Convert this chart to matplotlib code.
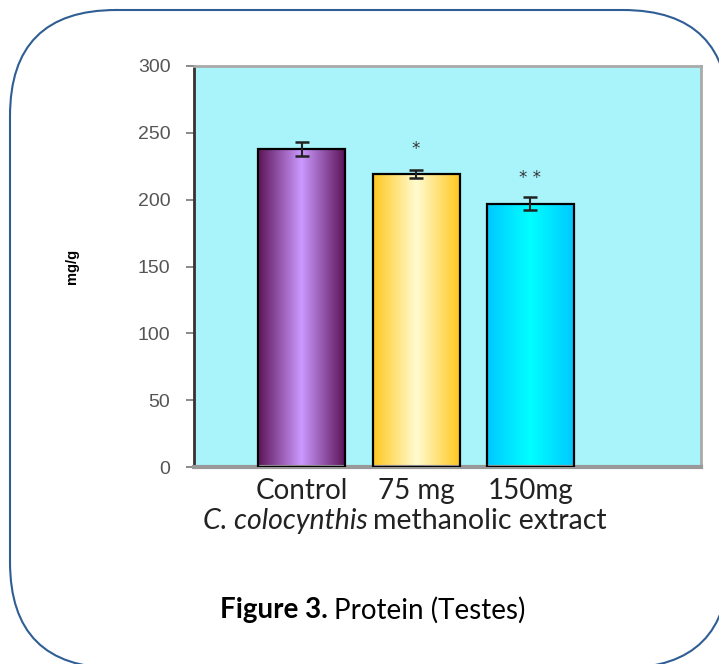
import matplotlib
matplotlib.use("Agg")
import matplotlib.pyplot as plt
import numpy as np
from matplotlib.patches import FancyBboxPatch
from matplotlib.colors import LinearSegmentedColormap

# data
groups = ["Control", "75 mg", "150mg"]
protein = [238, 219, 197]
sem = [5, 3, 5]
stars = ["", "*", "* *"]
yticks = [0, 50, 100, 150, 200, 250, 300]

# gradient colours per bar: edge, centre, edge
bar_cols = [
    ["#5c1458", "#cc99ff", "#5c1458"],
    ["#ffc71f", "#fffbd0", "#ffc71f"],
    ["#00c8ff", "#00ffff", "#00c8ff"],
]

fig = plt.figure(figsize=(7.19, 6.64), dpi=100)

# background axes in pixel units, used only for the rounded frame
bg = fig.add_axes([0, 0, 1, 1])
bg.set_xlim(0, 719)
bg.set_ylim(664, 0)
bg.axis("off")
box = FancyBboxPatch((10, 10), 719, 658, boxstyle="round,pad=0,rounding_size=106")
# flatten the curved outline into line segments (avoids clipping artefacts)
for poly in box.get_path().to_polygons(closed_only=False):
    bg.plot(poly[:, 0], poly[:, 1], color="#2f5e94", lw=1.5, clip_on=False)

ax = fig.add_axes([194/719, 1 - 467/664, (701 - 194)/719, (467 - 66)/664])
ax.set_facecolor("#a8f4fa")

x = np.arange(len(groups))
bars = ax.bar(x, protein, width=0.76, color="none", edgecolor="black",
              linewidth=1.6, zorder=3)

grad = np.linspace(0, 1, 256).reshape(1, -1)
for b, cols in zip(bars, bar_cols):
    cmap = LinearSegmentedColormap.from_list("g", cols)
    im = ax.imshow(grad, cmap=cmap, aspect="auto", zorder=2,
                   extent=[b.get_x(), b.get_x() + b.get_width(), 0, b.get_height()])
    im.set_clip_path(b)

ax.errorbar(x, protein, yerr=sem, fmt="none", ecolor="#222222",
            elinewidth=1.5, capsize=5, capthick=1.8, zorder=4)

for xi, v, s in zip(x, protein, stars):
    if s:
        ax.text(xi, v + 19, s, ha="center", va="center", fontsize=12,
                color="#333333", family="DejaVu Sans")

ax.set_xlim(-0.94, 3.49)
ax.set_ylim(0, 300)
ax.set_yticks(yticks)
ax.set_yticklabels([str(t) for t in yticks], family="Liberation Sans",
                   fontsize=14, color="#555555")
ax.tick_params(axis="y", direction="out", length=6, width=1.2, color="#777777", pad=11)
ax.tick_params(axis="x", length=0, pad=8)
ax.set_xticks(x)
ax.set_xticklabels(groups, family="Lato", fontsize=20, color="#222222")

ax.spines["left"].set_color("#3a3030")
ax.spines["left"].set_linewidth(2)
ax.spines["bottom"].set_color("#999999")
ax.spines["bottom"].set_linewidth(3)
ax.spines["top"].set_color("#aaaaaa")
ax.spines["top"].set_linewidth(2)
ax.spines["right"].set_color("#aaaaaa")
ax.spines["right"].set_linewidth(2)

ax.set_ylabel("mg/g", family="Liberation Sans", fontweight="bold",
              fontsize=10.5, labelpad=42)

# x-axis title with italic species name
fig.text(368/719, 1 - 521/664, "C. colocynthis", style="italic", family="Lato",
         fontsize=20.5, color="#222222", ha="right", va="center")
fig.text(373/719, 1 - 521/664, "methanolic extract", family="Lato",
         fontsize=20.5, color="#222222", ha="left", va="center")

# caption
fig.text(328/719, 1 - 610/664, "Figure 3.", fontweight="bold", family="Lato",
         fontsize=20, ha="right", va="center")
fig.text(334/719, 1 - 610/664, "Protein (Testes)", family="Lato",
         fontsize=20, ha="left", va="center")

fig.savefig("out.png", dpi=100)
